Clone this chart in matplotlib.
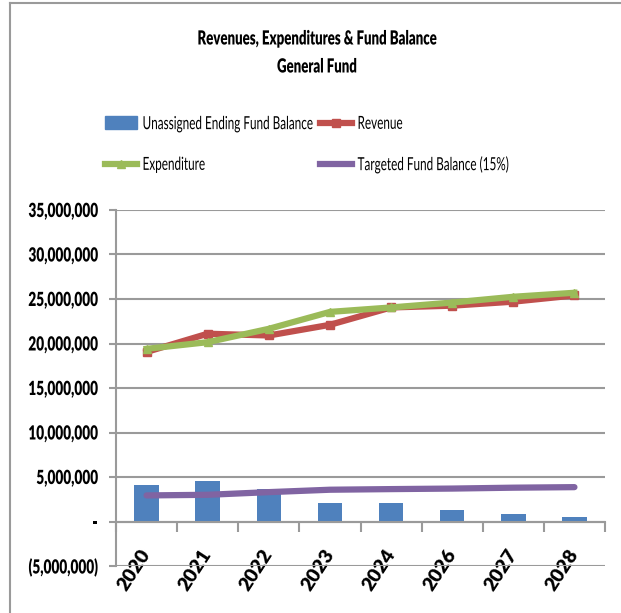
import matplotlib
matplotlib.use("Agg")
import matplotlib.pyplot as plt
from matplotlib.lines import Line2D
from matplotlib.patches import Patch
from matplotlib.patheffects import AbstractPathEffect
from matplotlib.transforms import Affine2D
from matplotlib.ticker import FuncFormatter, FixedLocator

years = ["2020", "2021", "2022", "2023", "2024", "2026", "2027", "2028"]
fund_balance = [4050000, 4550000, 3600000, 2100000, 2030000, 1250000, 870000, 560000]
revenue = [19050000, 21100000, 20900000, 22100000, 24050000, 24250000, 24700000, 25400000]
expenditure = [19400000, 20150000, 21650000, 23550000, 24050000, 24600000, 25250000, 25700000]
target_balance = [2930000, 3000000, 3300000, 3570000, 3640000, 3700000, 3800000, 3860000]

plt.rcParams['font.family'] = ['Lato', 'DejaVu Sans']

blue = "#4F81BD"
red = "#C0504D"
green = "#9BBB59"
purple = "#8064A2"
gray = "#9A9A9A"


class Squeeze(AbstractPathEffect):
    """Narrow the glyphs horizontally, keeping the aligned edge in place."""

    def __init__(self, sx, anchor=0.0):
        super().__init__()
        self.sx = sx
        self.anchor = anchor

    def draw_path(self, renderer, gc, tpath, affine, rgbFace=None):
        w = tpath.get_extents().x1
        shift = (1 - self.sx) * w * self.anchor
        tr = Affine2D().scale(self.sx, 1).translate(shift, 0) + affine
        renderer.draw_path(gc, tpath, tr, rgbFace)


W, H = 621, 613
fig = plt.figure(figsize=(W / 100, H / 100), dpi=100)
ax = fig.add_axes([116 / W, 1 - 566 / H, (605 - 116) / W, (566 - 210) / H])

lw = 4.5
x = list(range(len(years)))
ax.bar(x, fund_balance, width=0.4, color=blue, zorder=2)
ax.plot(x, revenue, color=red, lw=lw, marker="s", ms=6, zorder=3)
ax.plot(x, expenditure, color=green, lw=lw, marker="^", ms=5.5, zorder=4)
ax.plot(x, target_balance, color=purple, lw=lw, zorder=5,
        solid_capstyle="round")

ax.set_xlim(-0.5, len(years) - 0.5)
ax.set_ylim(-5000000, 35000000)
ax.set_yticks(range(-5000000, 35000001, 5000000))


def money(v, pos):
    if v == 0:
        return "-"
    if v < 0:
        return "({:,.0f})".format(-v)
    return "{:,.0f}".format(v)


ax.yaxis.set_major_formatter(FuncFormatter(money))
ax.grid(axis="y", color=gray, lw=1.5, zorder=0)
ax.tick_params(axis="y", length=5, width=1.5, color=gray, pad=8,
               labelsize=14)
for lbl in ax.get_yticklabels():
    lbl.set_fontweight("heavy")
    lbl.set_path_effects([Squeeze(0.7, 1.0)])

# category axis sits on zero, ticks between the categories
for side in ["top", "right"]:
    ax.spines[side].set_visible(False)
ax.spines["left"].set_color(gray)
ax.spines["left"].set_linewidth(1.5)
ax.spines["bottom"].set_position(("data", 0))
ax.spines["bottom"].set_color(gray)
ax.spines["bottom"].set_linewidth(1.5)
ax.xaxis.set_minor_locator(FixedLocator([i - 0.5 for i in range(len(years) + 1)]))
ax.tick_params(axis="x", which="minor", length=7, width=1.5, color=gray)
ax.set_xticks(x)
ax.set_xticklabels(years, rotation=57, ha="right", va="center",
                   rotation_mode="anchor", fontsize=14, fontweight="heavy")
ax.tick_params(axis="x", which="major", length=0, pad=21)

title_fx = [Squeeze(0.68, 0.5)]
fig.text(317 / W, 1 - 39 / H, "Revenues, Expenditures & Fund Balance",
         ha="center", va="center", fontsize=14, fontweight="heavy",
         path_effects=title_fx)
fig.text(317 / W, 1 - 67 / H, "General Fund",
         ha="center", va="center", fontsize=14, fontweight="heavy",
         path_effects=title_fx)

leg_kw = dict(loc="center left", frameon=False, fontsize=13,
              handlelength=1.75, handleheight=0.7, handletextpad=0.33,
              labelspacing=1.37, borderpad=0, borderaxespad=0)
leg1 = fig.legend([Patch(color=blue),
                   Line2D([], [], color=green, lw=lw, marker="^", ms=5.5)],
                  ["Unassigned Ending Fund Balance", "Expenditure"],
                  bbox_to_anchor=(105 / W, 1 - 144.5 / H), **leg_kw)
leg2 = fig.legend([Line2D([], [], color=red, lw=lw, marker="s", ms=6),
                   Line2D([], [], color=purple, lw=lw)],
                  ["Revenue", "Targeted Fund Balance (15%)"],
                  bbox_to_anchor=(320 / W, 1 - 144.5 / H), **leg_kw)
for leg in (leg1, leg2):
    for t in leg.get_texts():
        t.set_path_effects([Squeeze(0.65, 0.0)])

# chart area border
fig.add_artist(Line2D([10 / W, 10 / W], [0, 1 - 3 / H], color=gray, lw=1.5,
                      transform=fig.transFigure))
fig.add_artist(Line2D([10 / W, 1], [1 - 3 / H, 1 - 3 / H], color=gray, lw=1.5,
                      transform=fig.transFigure))

fig.savefig("out.png", dpi=100)
